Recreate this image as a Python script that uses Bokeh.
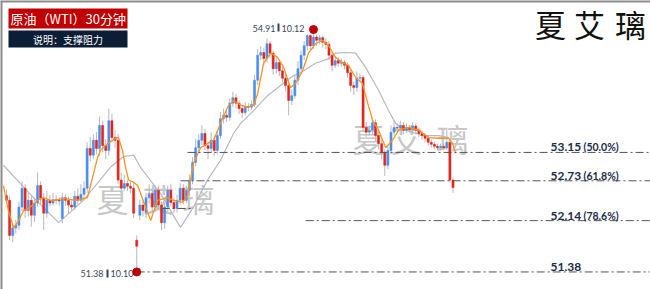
import numpy as np
from bokeh.plotting import figure
from bokeh.models import Span
from bokeh.core.properties import value
from bokeh.embed import file_html
from bokeh.resources import INLINE

# ---------------- data (WTI 30-minute candles) ----------------
opens = [52.51, 52.44, 51.92, 52.03, 52.07, 52.34, 52.62, 52.29, 52.44, 52.22,
         52.40, 52.66, 52.47, 52.25, 52.44, 52.40, 52.45, 52.44, 52.17, 52.48,
         52.44, 52.37, 52.34, 52.50, 52.44, 52.53, 52.62, 53.21, 53.11, 53.33,
         53.21, 53.55, 53.25, 53.18, 53.62, 53.37, 53.33, 52.74, 52.62, 52.69,
         52.65, 52.62, 51.85, 52.22, 52.37, 52.26, 52.48, 52.54, 52.34, 52.59,
         52.37, 52.11, 52.34, 52.59, 52.41, 52.32, 52.44, 52.62, 52.44, 52.59,
         52.74, 53.00, 53.22, 53.33, 53.43, 53.25, 53.21, 53.33, 53.18, 53.40,
         53.65, 53.70, 53.67, 53.88, 53.96, 53.88, 53.80, 53.74, 53.83, 53.82,
         53.86, 54.22, 54.59, 54.63, 54.54, 54.76, 54.62, 54.39, 54.48, 54.36,
         54.25, 54.14, 53.92, 53.99, 54.22, 54.39, 54.59, 54.73, 54.88, 54.73,
         54.86, 54.81, 54.85, 54.78, 54.75, 54.59, 54.44, 54.51, 54.47, 54.48,
         54.44, 54.33, 54.14, 54.11, 54.25, 54.26, 53.52, 53.45, 53.48, 53.59,
         53.40, 53.28, 53.15, 52.96, 53.18, 53.45, 53.52, 53.51, 53.55, 53.48,
         53.52, 53.49, 53.54, 53.48, 53.43, 53.40, 53.36, 53.30, 53.27, 53.24,
         53.22, 53.24, 53.22, 53.30, 52.74]
closes = [52.44, 51.92, 52.03, 52.07, 52.34, 52.62, 52.29, 52.44, 52.22, 52.40,
          52.66, 52.47, 52.25, 52.44, 52.40, 52.45, 52.44, 52.43, 52.48, 52.44,
          52.37, 52.34, 52.50, 52.44, 52.53, 52.62, 53.21, 53.11, 53.33, 53.21,
          53.55, 53.25, 53.18, 53.62, 53.37, 53.33, 52.74, 52.62, 52.69, 52.65,
          52.62, 52.25, 51.76, 52.37, 52.29, 52.48, 52.54, 52.34, 52.59, 52.37,
          52.11, 52.34, 52.59, 52.41, 52.32, 52.44, 52.62, 52.44, 52.59, 52.74,
          53.00, 53.22, 53.33, 53.43, 53.25, 53.21, 53.33, 53.18, 53.40, 53.65,
          53.70, 53.67, 53.88, 53.96, 53.88, 53.80, 53.74, 53.83, 53.82, 53.86,
          54.22, 54.59, 54.63, 54.54, 54.76, 54.62, 54.39, 54.48, 54.36, 54.25,
          54.14, 53.92, 53.99, 54.22, 54.39, 54.59, 54.73, 54.88, 54.73, 54.86,
          54.81, 54.85, 54.78, 54.75, 54.59, 54.44, 54.51, 54.47, 54.48, 54.44,
          54.33, 54.14, 54.11, 54.25, 54.26, 53.52, 53.45, 53.48, 53.59, 53.40,
          53.28, 53.15, 52.96, 53.18, 53.45, 53.52, 53.51, 53.55, 53.48, 53.52,
          53.49, 53.54, 53.48, 53.43, 53.40, 53.36, 53.30, 53.27, 53.24, 53.22,
          53.24, 53.22, 53.30, 52.74, 52.63]
highs = [52.60, 52.50, 52.10, 52.15, 52.42, 52.72, 52.68, 52.55, 52.50, 52.48,
         52.85, 52.72, 52.55, 52.58, 52.52, 52.55, 52.52, 52.48, 52.55, 52.53,
         52.50, 52.44, 52.58, 52.62, 52.68, 52.72, 53.30, 53.38, 53.42, 53.45,
         53.68, 53.62, 53.35, 53.80, 53.72, 53.48, 53.42, 52.85, 52.82, 52.75,
         52.72, 52.70, 51.92, 52.45, 52.44, 52.55, 52.68, 52.60, 52.66, 52.66,
         52.42, 52.40, 52.66, 52.68, 52.48, 52.52, 52.70, 52.68, 52.66, 52.82,
         53.08, 53.35, 53.42, 53.55, 53.50, 53.32, 53.45, 53.40, 53.48, 53.75,
         53.80, 53.78, 53.95, 54.05, 54.02, 53.92, 53.85, 53.90, 53.88, 53.92,
         54.30, 54.68, 54.72, 54.70, 54.84, 54.80, 54.66, 54.56, 54.52, 54.42,
         54.32, 54.20, 54.08, 54.30, 54.50, 54.66, 54.80, 54.90, 54.90, 54.91,
         54.90, 54.89, 54.88, 54.84, 54.80, 54.64, 54.58, 54.56, 54.54, 54.52,
         54.48, 54.38, 54.20, 54.35, 54.32, 54.30, 53.60, 53.55, 53.66, 53.64,
         53.46, 53.34, 53.20, 53.25, 53.55, 53.62, 53.58, 53.62, 53.60, 53.58,
         53.56, 53.60, 53.58, 53.52, 53.48, 53.44, 53.40, 53.34, 53.31, 53.28,
         53.28, 53.28, 53.48, 53.34, 52.78]
lows = [52.40, 51.85, 51.82, 51.95, 52.00, 52.28, 52.18, 52.20, 52.05, 52.12,
        52.35, 52.38, 52.00, 52.18, 52.35, 52.36, 52.38, 52.36, 52.10, 52.36,
        52.25, 52.28, 52.30, 52.38, 52.40, 52.45, 52.55, 53.02, 53.05, 53.12,
        53.10, 53.15, 53.05, 53.10, 53.30, 53.22, 52.68, 52.55, 52.58, 52.58,
        52.55, 52.18, 51.38, 52.15, 52.20, 52.18, 52.40, 52.25, 52.28, 52.30,
        52.00, 52.02, 52.28, 52.35, 52.25, 52.26, 52.38, 52.38, 52.40, 52.52,
        52.68, 52.94, 53.15, 53.26, 53.18, 53.05, 53.15, 53.10, 53.12, 53.35,
        53.58, 53.60, 53.62, 53.82, 53.80, 53.72, 53.66, 53.70, 53.76, 53.78,
        53.82, 54.15, 54.52, 54.45, 54.48, 54.55, 54.30, 54.32, 54.28, 54.18,
        54.05, 53.70, 53.85, 53.95, 54.15, 54.32, 54.52, 54.66, 54.65, 54.68,
        54.72, 54.75, 54.70, 54.68, 54.52, 54.35, 54.40, 54.42, 54.42, 54.38,
        54.26, 54.05, 54.00, 54.05, 54.20, 53.45, 53.38, 53.40, 53.42, 53.32,
        53.20, 53.05, 52.80, 52.90, 53.12, 53.40, 53.45, 53.46, 53.42, 53.44,
        53.44, 53.45, 53.42, 53.38, 53.34, 53.30, 53.25, 53.22, 53.20, 53.18,
        53.18, 53.18, 53.18, 52.70, 52.55]

# short moving average (orange), sampled: candle position, value
fast_ma_pos = [0.0, 1.6, 3.3, 4.9, 6.5, 8.7, 11.0, 12.9, 15.2, 16.2, 19.4, 23.3, 27.1,
               30.4, 31.3, 33.6, 36.2, 37.1, 38.4, 39.4, 40.4, 42.0, 43.3, 47.5, 49.7,
               52.9, 54.9, 57.8, 59.4, 61.3, 63.6, 65.8, 67.8, 70.0, 72.3, 74.2, 76.5,
               78.7, 80.7, 82.0, 83.9, 86.2, 88.4, 90.4, 92.6, 94.2, 96.5, 98.4, 100.7,
               102.9, 104.9, 107.1, 109.4, 111.3, 113.6, 115.8, 117.5, 119.1, 121.0,
               123.3, 125.5, 127.5, 130.7, 133.9, 137.1, 140.4, 143.6, 144.9, 145.8]
fast_ma_val = [52.66, 52.29, 52.03, 52.14, 52.29, 52.34, 52.44, 52.48, 52.44, 52.44, 52.47, 52.44, 52.48,
               53.08, 53.18, 53.28, 53.36, 53.37, 53.18, 52.93, 52.74, 52.71, 52.66, 52.14, 52.44,
               52.48, 52.44, 52.41, 52.51, 52.99, 53.22, 53.28, 53.33, 53.58, 53.82, 53.92, 53.85,
               53.82, 53.85, 54.02, 54.47, 54.62, 54.56, 54.41, 54.11, 54.17, 54.36, 54.62, 54.76,
               54.81, 54.73, 54.56, 54.48, 54.44, 54.26, 54.17, 53.88, 53.62, 53.48,
               53.22, 53.33, 53.48, 53.52, 53.48, 53.37, 53.36, 53.36, 53.28, 53.14]

# long moving average (grey), sampled: candle position, value
slow_ma_pos = [0.0, 9.7, 17.8, 25.8, 34.5, 38.7, 42.0, 44.2, 50.7, 57.1, 61.3, 65.8, 70.0,
               74.2, 76.5, 80.7, 85.2, 89.4, 93.6, 95.8, 100.7, 104.9, 107.1, 110.4, 113.6,
               116.8, 121.0, 124.2, 126.5, 129.7, 135.2, 140.4, 143.6]
slow_ma_val = [52.96, 52.48, 52.11, 52.44, 52.93, 53.09, 53.11, 52.93, 52.54, 52.04, 52.34, 52.74, 53.03,
               53.43, 53.58, 53.77, 53.99, 54.14, 54.29, 54.33, 54.47, 54.54, 54.62, 54.63, 54.62,
               54.41, 54.07, 53.77, 53.58, 53.48, 53.40, 53.40, 53.37]

# support / resistance levels
levels = [53.15, 52.73, 52.14, 51.38]
level_names = ["53.15", "52.73", "52.14", "51.38"]
level_pcts = ["(50.0%)", "(61.8%)", "(78.6%)", ""]
level_from = [59.4, 57.1, 97.5, 43.0]
minor_level = 52.32
minor_from, minor_to = 51.0, 60.9

high_pos, high_val, high_time = 100, 54.91, "10.12"
low_pos, low_val, low_time = 43, 51.38, "10.10"

title_main = "原油（WTI）30分钟"
title_sub = "说明：支撑阻力"
brand = "夏艾璃"

# ---------------- figure ----------------
W, H = 650, 289
X0, X1 = -0.94, 208.7
Y0, Y1 = 51.12, 55.40


def px(x):
    return X0 + (X1 - X0) * x / W


def py(y):
    return Y1 - (Y1 - Y0) * y / H


CJK = "Noto Sans CJK SC"
LAT = "Lato"

p = figure(width=W, height=H, x_range=(X0, X1), y_range=(Y0, Y1),
           x_axis_type=None, y_axis_type=None, output_backend="svg",
           toolbar_location=None, min_border=0)
p.outline_line_color = None
p.background_fill_color = "white"
p.border_fill_color = "white"

# watermarks inside the chart
p.text(x=[px(112), px(158), px(198)], y=[py(197)] * 3, text=list(brand),
       text_font=value(CJK), text_font_size="32px", text_color="#c8c8c8",
       text_align="center", text_baseline="middle")
p.text(x=[px(368), px(406), px(452)], y=[py(137)] * 3, text=list(brand),
       text_font=value(CJK), text_font_size="32px", text_color="#c8c8c8",
       text_align="center", text_baseline="middle")

# slow MA
p.line(slow_ma_pos, slow_ma_val, line_color="#b9b9c2", line_width=1.2)

# candles
idx = np.arange(1, len(closes) + 1)
o = np.array(opens)
c = np.array(closes)
cols = ["#4a8ef0" if cc >= oo else "#e3241b" for oo, cc in zip(o, c)]
p.segment(idx, highs, idx, lows, line_color="#b8b8b8", line_width=1)
p.vbar(x=idx, width=0.68, top=np.maximum(o, c), bottom=np.minimum(o, c),
       fill_color=cols, line_color=cols, line_width=0.5)

# fast MA
p.line(fast_ma_pos, fast_ma_val, line_color="#f7931e", line_width=1.3)

# level lines
p.segment(x0=level_from, y0=levels, x1=[X1] * len(levels), y1=levels,
          line_color="#555555", line_width=1, line_dash="8 3 2 3")
p.segment(x0=[minor_from], y0=[minor_level], x1=[minor_to], y1=[minor_level],
          line_color="#555555", line_width=1, line_dash="8 3 2 3")

p.text(x=[px(550)] * 4, y=levels, text=level_names, y_offset=-5,
       text_font=value(LAT), text_font_size="12px", text_font_style="bold",
       text_color="#1c2b48", text_align="left", text_baseline="alphabetic")
p.text(x=[px(583)] * 4, y=levels, text=level_pcts, y_offset=-5,
       text_font=value(LAT), text_font_size="10.5px", text_font_style="bold",
       text_color="#1c2b48", text_align="left", text_baseline="alphabetic")

# extreme markers
p.scatter([high_pos, low_pos], [high_val + 0.06, low_val], size=8,
          fill_color="#c00000", line_color="#c00000")
p.text(x=[px(275)], y=[py(27.5)], text=[f"{high_val:.2f}"], text_font=value(LAT),
       text_font_size="9px", text_color="#3a4656", text_align="right", text_baseline="middle")
p.quad(left=[px(277)], right=[px(279)], top=[py(23)], bottom=[py(31)],
       fill_color="#3a4656", line_color=None)
p.text(x=[px(281)], y=[py(27.5)], text=[high_time], text_font=value(LAT),
       text_font_size="9px", text_color="#3a4656", text_align="left", text_baseline="middle")
p.text(x=[px(103)], y=[py(273)], text=[f"{low_val:.2f}"], text_font=value(LAT),
       text_font_size="9px", text_color="#3a4656", text_align="right", text_baseline="middle")
p.quad(left=[px(106)], right=[px(108)], top=[py(269)], bottom=[py(277)],
       fill_color="#3a4656", line_color=None)
p.text(x=[px(110)], y=[py(273)], text=[low_time], text_font=value(LAT),
       text_font_size="9px", text_color="#3a4656", text_align="left", text_baseline="middle")

# title boxes
p.quad(left=[px(8)], right=[px(127)], top=[py(8)], bottom=[py(28)],
       fill_color="#c00000", line_color=None)
p.text(x=[px(10)], y=[py(18)], text=[title_main], text_font=value(CJK),
       text_font_size="13px", text_color="white", text_align="left", text_baseline="middle")
p.quad(left=[px(8)], right=[px(127)], top=[py(30)], bottom=[py(47)],
       fill_color="#0c1d36", line_color=None)
p.text(x=[px(67.5)], y=[py(38.5)], text=[title_sub], text_font=value(CJK),
       text_font_size="10px", text_color="white", text_align="center", text_baseline="middle")

# brand top-right
p.text(x=[px(550), px(589), px(630)], y=[py(23)] * 3, text=list(brand),
       text_font=value(CJK), text_font_size="31px", text_color="#111111",
       text_align="center", text_baseline="middle")

# frame on left and top
p.add_layout(Span(location=X0, dimension="height", line_color="#8c8c8c", line_width=4))
p.add_layout(Span(location=Y1, dimension="width", line_color="#8c8c8c", line_width=4))

open("out.html", "w").write(file_html(p, INLINE))
